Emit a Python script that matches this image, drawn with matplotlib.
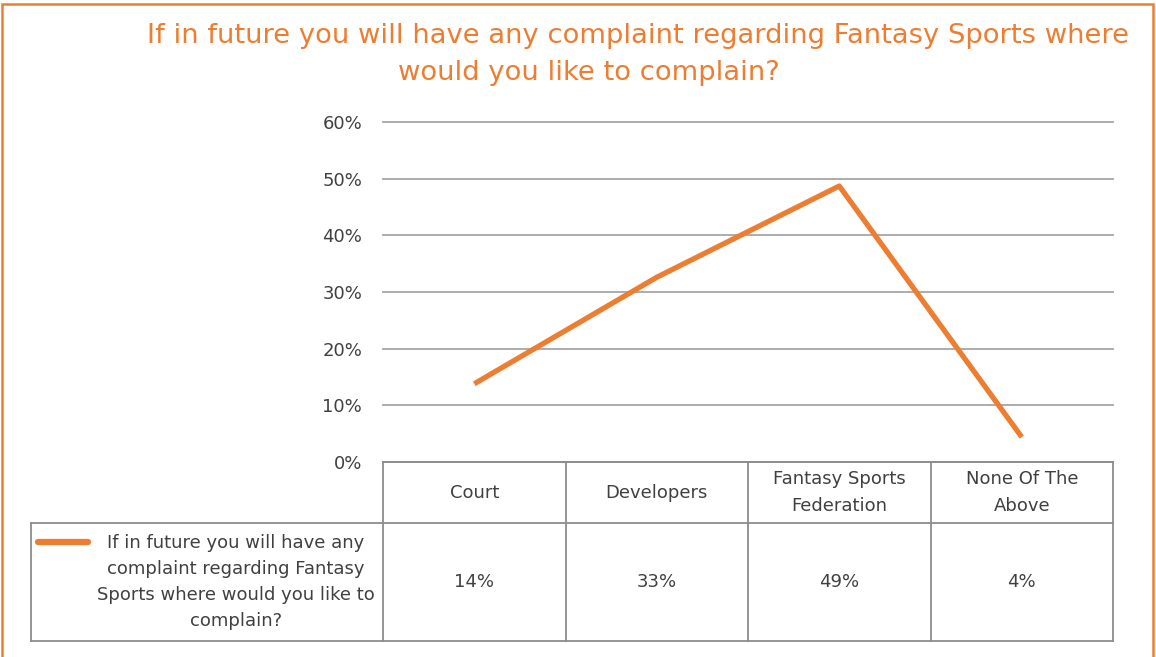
import matplotlib.pyplot as plt
from matplotlib.patches import Rectangle
from matplotlib.lines import Line2D

categories = ['Court', 'Developers', 'Fantasy Sports\nFederation', 'None Of The\nAbove']
values = [13.8, 32.6, 48.7, 4.4]
table_labels = ['14%', '33%', '49%', '4%']
yticks = [0, 10, 20, 30, 40, 50, 60]
series_name = 'If in future you will have any\ncomplaint regarding Fantasy\nSports where would you like to\ncomplain?'
title_1 = 'If in future you will have any complaint regarding Fantasy Sports where'
title_2 = 'would you like to complain?'

orange = '#ED7D31'
grid_c = '#a6a6a6'
text_c = '#404040'
W, H = 1156, 657

fig = plt.figure(figsize=(W / 100, H / 100), dpi=100)

def fx(px):
    return px / W

def fy(py):
    return 1 - py / H

# orange frame
fig.patches.append(Rectangle((fx(2), fy(700)), fx(1153) - fx(2), fy(4) - fy(700),
                             transform=fig.transFigure, fill=False, ec=orange, lw=1.8))

fig.text(fx(638), fy(36), title_1, color=orange, fontsize=19.7, ha='center', va='center')
fig.text(fx(589), fy(73), title_2, color=orange, fontsize=19.7, ha='center', va='center')

x0, x1, y0, y1 = 383, 1113, 462, 122
ax = fig.add_axes([fx(x0), fy(y0), fx(x1) - fx(x0), fy(y1) - fy(y0)])
ax.set_xlim(-0.5, len(categories) - 0.5)
ax.set_ylim(0, 60)
ax.set_yticks(yticks)
ax.set_yticklabels([f'{t}%' for t in yticks], fontsize=13, color=text_c)
ax.set_xticks([])
ax.tick_params(axis='y', length=0, pad=15)
for s in ax.spines.values():
    s.set_visible(False)
for t in yticks:
    ax.axhline(t, color=grid_c, lw=1.3, zorder=1, clip_on=False)
ax.plot(range(len(values)), values, color=orange, lw=3.8, zorder=3, solid_capstyle='butt')
ax.patch.set_alpha(0)

# data table
col_w = (x1 - x0) / len(categories)
r0, r1, r2 = 462, 523, 641
lines = [
    ((x0, x1), (r0, r0)),
    ((31, x1), (r1, r1)),
    ((31, x1), (r2, r2)),
    ((31, 31), (r1, r2)),
]
for i in range(len(categories) + 1):
    xx = x0 + i * col_w
    lines.append(((xx, xx), (r0, r2)))
for (xs, ys) in lines:
    fig.add_artist(Line2D([fx(v) for v in xs], [fy(v) for v in ys],
                          transform=fig.transFigure, color='#8c8c8c', lw=1.3))

for i, (c, lab) in enumerate(zip(categories, table_labels)):
    cx = x0 + (i + 0.5) * col_w
    fig.text(fx(cx), fy((r0 + r1) / 2), c, ha='center', va='center',
             fontsize=13, color=text_c, linespacing=1.6)
    fig.text(fx(cx), fy((r1 + r2) / 2), lab, ha='center', va='center',
             fontsize=13, color=text_c)

fig.add_artist(Line2D([fx(38), fx(88)], [fy(542), fy(542)], transform=fig.transFigure,
                      color=orange, lw=4.5, solid_capstyle='round'))
fig.text(fx(236), fy(582), series_name, ha='center', va='center', fontsize=13,
         color=text_c, linespacing=1.55)

fig.savefig('out.png', dpi=100)
